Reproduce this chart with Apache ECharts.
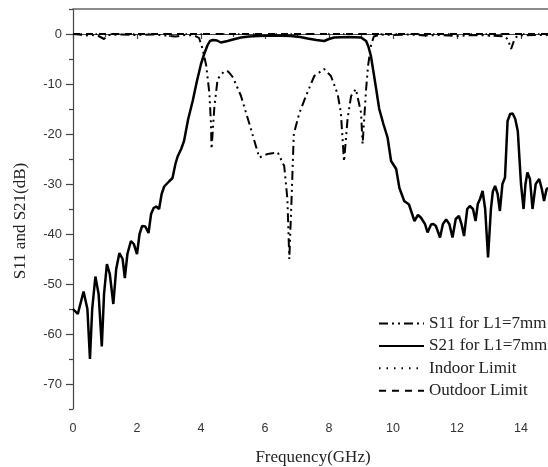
<!DOCTYPE html>
<html><head><meta charset="utf-8">
<script src="https://cdn.jsdelivr.net/npm/echarts@6/dist/echarts.min.js"></script>
<style>html,body{margin:0;padding:0;background:#fff}#c{width:548px;height:467px}</style>
</head><body><div id="c"></div>
<script>
// S21 for L1=7mm (solid)
var s21Freq = [0,0.15,0.33,0.45,0.53,0.6,0.7,0.8,0.9,0.97,1.06,1.15,1.26,1.35,1.45,1.55,1.62,1.7,1.81,1.9,2.0,2.08,2.16,2.26,2.36,2.44,2.52,2.6,2.69,2.77,2.85,3.0,3.11,3.2,3.27,3.38,3.47,3.6,3.74,3.87,4.0,4.1,4.2,4.28,4.37,4.5,4.62,4.83,5.0,5.25,5.5,5.77,6.3,6.8,7.1,7.33,7.6,7.85,8.0,8.16,8.6,9.0,9.16,9.23,9.31,9.45,9.57,9.7,9.83,9.94,10.1,10.2,10.35,10.5,10.67,10.78,10.87,11.0,11.08,11.19,11.26,11.34,11.47,11.56,11.66,11.76,11.86,11.96,12.06,12.14,12.22,12.32,12.4,12.5,12.58,12.65,12.72,12.8,12.88,12.97,13.06,13.12,13.19,13.27,13.34,13.42,13.5,13.58,13.66,13.74,13.82,13.9,14.0,14.08,14.14,14.2,14.28,14.36,14.46,14.57,14.65,14.72,14.8,14.88,15];
var s21Val = [-55,-56,-51.5,-55,-65,-55,-48.5,-52,-62.5,-52,-46,-48,-54,-47,-43.8,-45,-48.8,-44,-41.4,-42,-44,-40,-38.4,-38.5,-39.8,-36,-34.8,-34.5,-35,-32,-30.5,-29.5,-28.8,-26,-24.5,-23,-21.4,-17,-13.4,-9.5,-6,-4,-2.3,-1.4,-1.2,-1.3,-1.7,-1.4,-1.1,-0.7,-0.5,-0.4,-0.3,-0.4,-0.6,-0.9,-1.2,-1.4,-1.0,-0.7,-0.6,-0.7,-1.4,-2.5,-4.4,-10,-15,-18,-20.7,-25.4,-27,-30.8,-33.4,-34.1,-37.4,-36.2,-36.7,-38,-39.7,-38.1,-38,-38.4,-40.7,-38,-37.1,-38,-40.7,-37,-36.4,-38,-40.4,-35,-34.4,-35,-37.4,-34,-33,-31.4,-35,-44.7,-35,-31.5,-30.4,-32,-35.4,-30,-28.7,-17.4,-16,-15.9,-17,-19.4,-30,-35,-30,-27.7,-29,-35,-30,-29,-31,-33.4,-31,-30.8,-29];
// S11 for L1=7mm (dash-dot)
var s11Freq = [0,0.2,0.4,0.6,0.8,0.97,1.1,1.5,2.0,2.5,2.9,3.2,3.5,3.8,3.94,4.05,4.16,4.26,4.31,4.33,4.42,4.52,4.73,4.85,5.0,5.25,5.5,5.82,6.08,6.4,6.6,6.7,6.76,6.83,6.9,7.07,7.28,7.54,7.85,8.06,8.27,8.37,8.47,8.58,8.69,8.84,9.0,9.05,9.16,9.22,9.31,9.4,9.6,10.0,10.5,11.0,11.5,12.0,12.5,13.0,13.5,13.6,13.69,13.8,13.9,14.5,15];
var s11Val = [0,-0.1,-0.3,-0.2,-0.4,-1,-0.2,-0.1,-0.2,-0.1,-0.3,-0.5,-0.2,-0.3,-0.8,-3,-6.2,-11.7,-17.7,-23,-14.4,-9,-7.4,-7.5,-8.7,-12.4,-17.7,-24.7,-24,-23.7,-26.4,-33,-45,-33,-20,-15.9,-12.4,-8.4,-7,-8.4,-12,-15.7,-25.5,-17,-12.4,-11,-15.7,-22,-11,-6.4,-2.4,-0.5,-0.1,-0.2,-0.1,-0.3,-0.2,-0.4,-0.2,-0.3,-0.5,-1.2,-3,-1,-0.3,-0.2,-0.2];
// Limits (drawn at 0 dB)
var indoorFreq = [0,15], indoorVal = [0,0];
var outdoorFreq = [0,15], outdoorVal = [0,0];
// Ticks
var xMajor = [0,2,4,6,8,10,12,14];
var xMinor = [1,3,5,7,9,11,13];
var yMajor = [-70,-60,-50,-40,-30,-20,-10,0];
var yMinor = [-75,-65,-55,-45,-35,-25,-15,-5,5];

function zip(a,b){return a.map(function(v,i){return [v,b[i]];});}
var serif = '"Liberation Serif","Times New Roman",serif';
var sans = '"Liberation Sans",Arial,sans-serif';
var axCol = '#444';
var chart = echarts.init(document.getElementById('c'));
chart.setOption({
  animation:false,
  color:['#000','#000','#000','#000'],
  grid:{left:73,top:9,width:480,height:400,containLabel:false,outerBoundsMode:'none'},
  legend:{orient:'vertical',left:373,top:310,itemWidth:45,itemHeight:14,itemGap:5.4,
    itemStyle:{opacity:0,borderWidth:0},
    textStyle:{fontFamily:serif,fontSize:17,color:'#222'},
    data:['S11 for L1=7mm','S21 for L1=7mm','Indoor Limit','Outdoor Limit']},
  xAxis:[
    {type:'value',min:0,max:15,position:'bottom',
     name:'Frequency(GHz)',nameLocation:'middle',nameGap:40,
     nameTextStyle:{fontFamily:serif,fontSize:17,color:'#222'},
     axisLine:{lineStyle:{color:axCol,width:1.2}},
     axisTick:{show:true,inside:false,length:5,customValues:xMajor,lineStyle:{color:axCol,width:1.2}},
     axisLabel:{customValues:xMajor,margin:13,fontFamily:sans,fontSize:12.5,color:'#333'},
     splitLine:{show:false}},
    {type:'value',min:0,max:15,position:'bottom',
     axisLine:{show:false},
     axisTick:{show:true,length:3,customValues:xMinor,lineStyle:{color:axCol,width:1.2}},
     axisLabel:{show:false},splitLine:{show:false}},
    {type:'value',min:0,max:15,position:'top',
     axisLine:{show:true,lineStyle:{color:'#666',width:1.6}},
     axisTick:{show:false},axisLabel:{show:false},splitLine:{show:false}}
  ],
  yAxis:[
    {type:'value',min:-75,max:5,position:'left',
     name:'S11 and S21(dB)',nameLocation:'middle',nameGap:44,
     nameTextStyle:{fontFamily:serif,fontSize:17,color:'#222',padding:[0,24,0,0]},
     axisLine:{show:true,lineStyle:{color:axCol,width:1.2}},
     axisTick:{show:true,length:7,customValues:yMajor,lineStyle:{color:axCol,width:1.2}},
     axisLabel:{customValues:yMajor,margin:11,fontFamily:sans,fontSize:13,color:'#333'},
     splitLine:{show:false}},
    {type:'value',min:-75,max:5,position:'left',
     axisLine:{show:false},
     axisTick:{show:true,length:4,customValues:yMinor,lineStyle:{color:axCol,width:1.2}},
     axisLabel:{show:false},splitLine:{show:false}}
  ],
  series:[
    {name:'Outdoor Limit',type:'line',data:zip(outdoorFreq,outdoorVal),symbol:'none',
     itemStyle:{color:'#000'},lineStyle:{color:'#000',width:2,type:[7,6]},z:1},
    {name:'Indoor Limit',type:'line',data:zip(indoorFreq,indoorVal),symbol:'none',
     itemStyle:{color:'#000'},lineStyle:{color:'#000',width:1.5,type:[1.5,6]},z:1},
    {name:'S11 for L1=7mm',type:'line',data:zip(s11Freq,s11Val),symbol:'none',
     itemStyle:{color:'#000'},lineStyle:{color:'#000',width:2,type:[9,4,2,4,2,4]},z:2},
    {name:'S21 for L1=7mm',type:'line',data:zip(s21Freq,s21Val),symbol:'none',
     itemStyle:{color:'#000'},lineStyle:{color:'#000',width:2.5,type:'solid'},z:3}
  ]
});
</script></body></html>
